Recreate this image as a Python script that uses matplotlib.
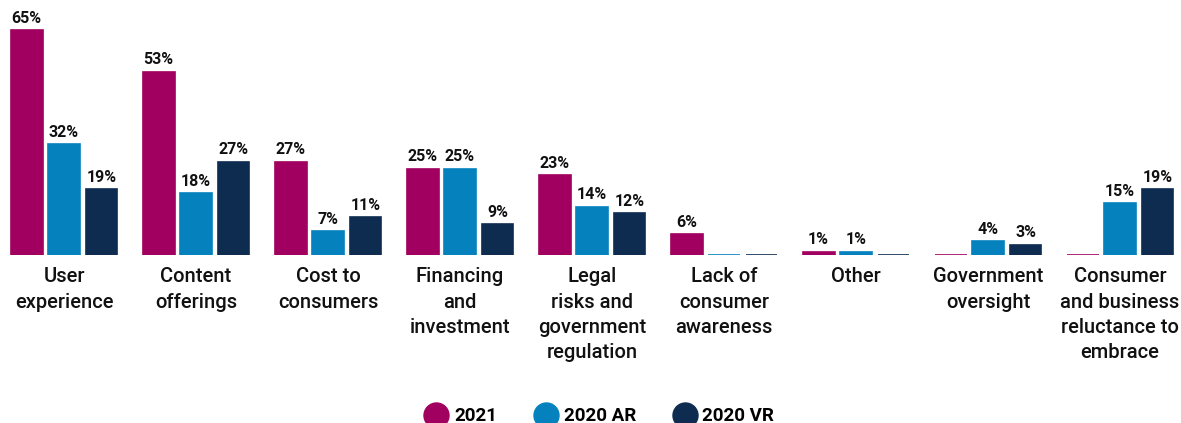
import numpy as np
import matplotlib
matplotlib.use("Agg")
import matplotlib.pyplot as plt
from matplotlib.lines import Line2D

plt.rcParams['font.family'] = ['Roboto', 'DejaVu Sans']

categories = [
    "User\nexperience",
    "Content\nofferings",
    "Cost to\nconsumers",
    "Financing\nand\ninvestment",
    "Legal\nrisks and\ngovernment\nregulation",
    "Lack of\nconsumer\nawareness",
    "Other",
    "Government\noversight",
    "Consumer\nand business\nreluctance to\nembrace",
]
series_names = ["2021", "2020 AR", "2020 VR"]
values_2021 = [65, 53, 27, 25, 23, 6, 1, 0, 0]
values_2020_ar = [32, 18, 7, 25, 14, 0, 1, 4, 15]
values_2020_vr = [19, 27, 11, 9, 12, 0, 0, 3, 19]

colors = ["#A10060", "#0582BE", "#0E2C50"]

fig = plt.figure(figsize=(11.81, 4.23), dpi=100)
ax = fig.add_axes([0, 168 / 423, 1, 255 / 423])

x = np.arange(len(categories))
bar_w = 0.242
stride = 0.284

for i, (vals, col) in enumerate(zip([values_2021, values_2020_ar, values_2020_vr], colors)):
    bars = ax.bar(x + (i - 1) * stride, vals, width=bar_w, color=col,
                  edgecolor=col, linewidth=1.2)
    ax.bar_label(bars, labels=[f"{v}%" if v else "" for v in vals],
                 padding=3, fontsize=11.5, fontweight="bold", color="#111111")

ax.set_xlim(-0.485, 8.462)
ax.set_ylim(0, 73.7)
ax.set_xticks(x)
ax.set_xticklabels(categories, fontsize=14.5, fontweight="medium",
                   color="#111111", linespacing=1.42, va="top")
ax.tick_params(axis="x", length=0, pad=9)
ax.set_yticks([])
for s in ax.spines.values():
    s.set_visible(False)

handles = [Line2D([], [], marker="o", linestyle="", markersize=18,
                  markerfacecolor=c, markeredgecolor=c) for c in colors]
fig.legend(handles, series_names, loc="center", bbox_to_anchor=(0.5085, 0.016),
           ncol=3, frameon=False, prop={"size": 13.5, "weight": "bold"},
           handletextpad=0.45, columnspacing=2.1, handlelength=1.0,
           borderaxespad=0, borderpad=0)

fig.savefig("out.png", dpi=100, facecolor="white")
